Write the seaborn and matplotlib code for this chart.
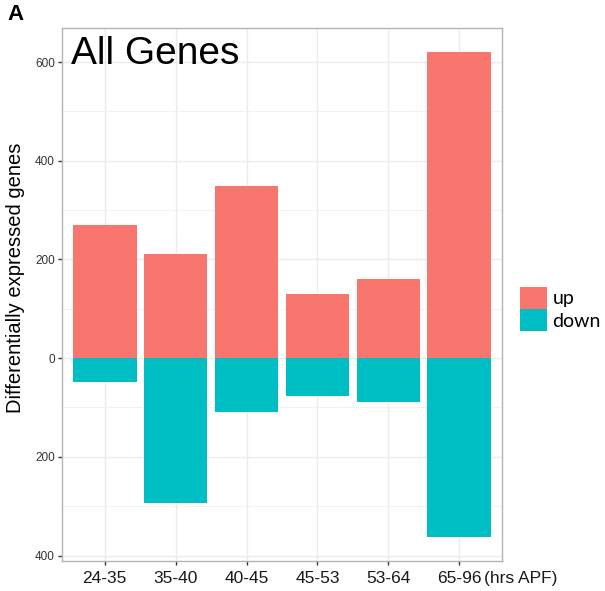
import pandas as pd
import numpy as np
import matplotlib
matplotlib.use("Agg")
import matplotlib.pyplot as plt
import seaborn as sns
from matplotlib.patches import Patch
from matplotlib.ticker import FuncFormatter, MultipleLocator

# Datos
periods = ['24-35', '35-40', '40-45', '45-53', '53-64', '65-96']
up_counts = [270, 212, 348, 131, 161, 620]
down_counts = [48, 293, 110, 76, 89, 362]
directions = ['up', 'down']
colors = {'up': '#F8766D', 'down': '#00BFC4'}

df = pd.DataFrame({
    'period': periods * 2,
    'direction': ['up'] * len(periods) + ['down'] * len(periods),
    'value': up_counts + [-v for v in down_counts],
})

sns.set_theme(style="white")
plt.rcParams['font.family'] = ['Liberation Sans', 'DejaVu Sans']
plt.rcParams['text.color'] = 'black'
plt.rcParams['axes.labelcolor'] = 'black'

fig = plt.figure(figsize=(6.05, 5.91), dpi=100)
ax = fig.add_axes([62 / 605, 1 - 561 / 591, 440 / 605, 533 / 591])

sns.barplot(
    data=df, x='period', y='value', hue='direction',
    order=periods, hue_order=directions, palette=colors,
    dodge=False, width=0.9, saturation=1, edgecolor='none',
    legend=False, ax=ax, zorder=3,
)

# Rango y rejilla al estilo ggplot
ymin, ymax = -max(down_counts), max(up_counts)
pad = 0.05 * (ymax - ymin)
ax.set_ylim(ymin - pad, ymax + pad)
ax.set_xlim(-0.6, len(periods) - 0.4)
ax.yaxis.set_major_locator(MultipleLocator(200))
ax.yaxis.set_minor_locator(MultipleLocator(100))
ax.yaxis.set_major_formatter(FuncFormatter(lambda v, p: f"{abs(int(v))}"))
ax.grid(True, which='major', color='#EBEBEB', linewidth=1.0, zorder=0)
ax.grid(True, which='minor', axis='y', color='#F2F2F2', linewidth=0.7, zorder=0)
ax.set_axisbelow(True)

for s in ax.spines.values():
    s.set_color('#B3B3B3')
    s.set_linewidth(1.0)

ax.tick_params(axis='both', which='major', length=3, width=1, color='#333333', direction='out',
               left=True, bottom=True)
ax.tick_params(axis='y', labelsize=8.5, labelcolor='#333333', pad=2)
ax.tick_params(axis='x', labelsize=12.5, labelcolor='#1a1a1a', pad=4)
ax.tick_params(which='minor', length=0)

ax.set_xlabel('')
ax.set_ylabel('Differentially expressed genes', fontsize=14.5)
ax.yaxis.set_label_coords(-0.085, 0.531)

# Etiqueta de unidades junto al último tick
ax.annotate('(hrs APF)', xy=(len(periods) - 1, 0), xycoords=('data', 'axes fraction'),
            xytext=(18, -7), textcoords='offset points', ha='left', va='top',
            fontsize=12.5, color='#1a1a1a')

ax.text(0.02, 0.985, 'All Genes', transform=ax.transAxes, ha='left', va='top', fontsize=28)
fig.text(7 / 605, 1 - 4 / 591, 'A', ha='left', va='top', fontsize=16, fontweight='bold')

handles = [Patch(facecolor=colors[d], edgecolor='none', label=d) for d in directions]
leg = fig.legend(handles=handles, loc='center left', bbox_to_anchor=(506 / 605, 1 - 309 / 591),
                 frameon=False, handlelength=1.39, handleheight=1.39,
                 handletextpad=0.3, labelspacing=0.0, borderpad=0.2,
                 prop={'family': 'Lato', 'size': 14})

fig.savefig('out.png', dpi=100)
